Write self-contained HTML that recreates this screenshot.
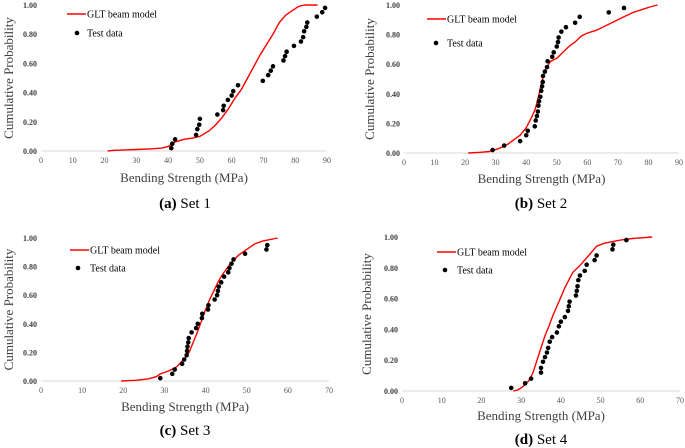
<!DOCTYPE html>
<html><head><meta charset="utf-8"><style>
html,body{margin:0;padding:0;background:#fff;width:685px;height:448px;overflow:hidden}
svg{display:block}
svg text{font-family:"Liberation Serif","DejaVu Serif",serif}
</style></head><body>
<svg id="fig" width="685" height="448"></svg>
<script>
const xTicks1=[0,10,20,30,40,50,60,70,80,90];
const xTicks2=[0,10,20,30,40,50,60,70];
const yTicks=[0,0.2,0.4,0.6,0.8,1.0];
const set1X=[41,41.3,42.2,48.8,49.2,49.8,50,55.5,57.3,57.5,58.8,60,60.5,62,69.8,71.5,72.3,73,76.3,76.8,77.3,79.6,81.8,82.5,82.8,83.5,83.8,86.8,88.5,89.4];
const set1Y=[0.02,0.05,0.08,0.11,0.15,0.18,0.22,0.25,0.28,0.31,0.35,0.38,0.41,0.45,0.48,0.52,0.55,0.58,0.62,0.65,0.68,0.72,0.75,0.78,0.82,0.85,0.88,0.92,0.95,0.98];
const model1X=[21,23,30,35,38,40,42,45,48,50,53,55,57,59,61,63,65,67,69,71,73,75,77,79,81,83,87];
const model1Y=[0,0.005,0.01,0.015,0.02,0.03,0.06,0.08,0.09,0.1,0.14,0.18,0.23,0.29,0.36,0.42,0.5,0.58,0.66,0.73,0.8,0.88,0.93,0.96,0.99,1,1];
const set2X=[29,32.8,38,40,40.5,42.8,43.1,43.5,43.8,44,44.2,44.6,44.9,45.2,45.4,45.5,46.1,46.8,47,48.5,49,50,50.4,50.6,51.5,53,56,57.5,67,72];
const set2Y=[0.02,0.05,0.08,0.12,0.15,0.18,0.22,0.25,0.28,0.32,0.35,0.38,0.42,0.45,0.48,0.52,0.55,0.58,0.62,0.65,0.68,0.72,0.75,0.78,0.82,0.85,0.88,0.92,0.95,0.98];
const model2X=[21,25,28,31,34,36,38,40,42,43,44,45,46,47,48,50,52,54,56,58,60,63,66,69,72,75,78,81,83];
const model2Y=[0,0.005,0.01,0.03,0.06,0.09,0.12,0.17,0.25,0.3,0.38,0.47,0.55,0.59,0.62,0.64,0.68,0.72,0.75,0.79,0.81,0.83,0.86,0.89,0.92,0.95,0.97,0.99,1];
const set3X=[29,31.9,32.5,34.3,34.8,35.4,35.5,35.6,35.8,35.9,36.6,37.7,38.1,39.1,39.2,40.6,40.7,42.2,42.8,43,43.2,43.8,44.5,45.5,45.8,46.3,46.8,49.6,54.8,55];
const set3Y=[0.02,0.05,0.08,0.12,0.15,0.18,0.21,0.24,0.27,0.3,0.34,0.37,0.4,0.44,0.47,0.5,0.53,0.57,0.6,0.63,0.66,0.69,0.73,0.76,0.79,0.82,0.85,0.89,0.92,0.95];
const model3X=[19.5,23,26,28,29,31,33,35,36,37,38,39,40,41,42,43,44,45,46,47,48,50,52,54,57.5];
const model3Y=[0,0.005,0.015,0.03,0.05,0.07,0.1,0.16,0.2,0.27,0.34,0.42,0.5,0.57,0.63,0.69,0.74,0.78,0.82,0.85,0.88,0.92,0.96,0.98,1];
const set4X=[27.5,31,32.5,35,35,35.5,36,36.5,36.8,37.2,37.8,39,39.5,40,41,41.8,42,42.2,43.8,44,44.2,44.4,44.8,46,46.5,48.5,49,53,53.2,56.5];
const set4Y=[0.02,0.05,0.08,0.12,0.15,0.19,0.22,0.25,0.28,0.32,0.35,0.38,0.42,0.45,0.48,0.52,0.55,0.58,0.62,0.65,0.68,0.72,0.75,0.78,0.82,0.85,0.88,0.92,0.95,0.98];
const model4X=[28,29,30,31,32,33,34,35,36,37,38,39,40,41,42,43,45,47,49,51,53,55,58,63];
const model4Y=[0,0.005,0.02,0.04,0.07,0.12,0.2,0.28,0.36,0.42,0.49,0.55,0.61,0.67,0.72,0.77,0.82,0.88,0.94,0.96,0.97,0.98,0.99,1];

const NS="http://www.w3.org/2000/svg";
const svg=document.getElementById('fig');
const FF='"Liberation Serif", "DejaVu Serif", serif';
function mk(tag,attrs,parent,text){const e=document.createElementNS(NS,tag);for(const k in attrs)e.setAttribute(k,attrs[k]);if(tag==='text')e.style.fontFamily=FF;if(text!==undefined)e.textContent=text;(parent||svg).appendChild(e);return e;}

const panels=[
 {id:'set-1',x0:41,x1:327,xmax:90,yb:151,yt:5,ticks:xTicks1,mx:model1X,my:model1Y,dx:set1X,dy:set1Y,ylx:10,leg:[67,14,77,33],title:178,cap:203,letter:'(a)',name:' Set 1',cx:185},
 {id:'set-2',x0:404,x1:679,xmax:90,yb:153,yt:5,ticks:xTicks1,mx:model2X,my:model2Y,dx:set2X,dy:set2Y,ylx:371,leg:[427,19,436,43],title:179,cap:203,letter:'(b)',name:' Set 2',cx:541},
 {id:'set-3',x0:41,x1:329,xmax:70,yb:381,yt:238,ticks:xTicks2,mx:model3X,my:model3Y,dx:set3X,dy:set3Y,ylx:10,leg:[70,250,78,268],title:407,cap:430,letter:'(c)',name:' Set 3',cx:185},
 {id:'set-4',x0:402,x1:680,xmax:70,yb:391,yt:237,ticks:xTicks2,mx:model4X,my:model4Y,dx:set4X,dy:set4Y,ylx:368,leg:[437,252,445,270],title:416,cap:439,letter:'(d)',name:' Set 4',cx:541}
];
panels.forEach(p=>{
 const g=mk('g',{});
 
 
 const sx=v=>p.x0+(p.x1-p.x0)*v/p.xmax;
 const sy=v=>p.yb-(p.yb-p.yt)*v;
 const ax=mk('line',{x1:p.x0,x2:p.x1,y1:p.yb,y2:p.yb,stroke:'#d9d9d9','stroke-width':1},g);
 
 
 p.ticks.forEach(t=>{
  const tl=mk('text',{x:sx(t),y:p.yb+12,'font-size':8,'text-anchor':'middle',fill:'#595959'},g,String(t));
  
  
 });
 yTicks.forEach(t=>{
  const tl=mk('text',{x:p.x0-4,y:sy(t)+3,'font-size':8,'font-weight':'bold','text-anchor':'end',fill:'#404040'},g,t.toFixed(2));
  
  
 });
 const yl=mk('text',{x:p.ylx,y:(p.yb+p.yt)/2,'font-size':13,'text-anchor':'middle',fill:'#404040',transform:`rotate(-90 ${p.ylx} ${(p.yb+p.yt)/2})`,'dominant-baseline':'middle'},g,'Cumulative Probability');
 
 
 const xl=mk('text',{x:(p.x0+p.x1)/2,y:p.title+4,'font-size':13,'text-anchor':'middle',fill:'#404040'},g,'Bending Strength (MPa)');
 
 
 let d='';p.mx.forEach((v,i)=>{d+=(i?'L':'M')+sx(v).toFixed(1)+','+sy(p.my[i]).toFixed(1);});
 const ln=mk('path',{d:d,fill:'none',stroke:'#ff0000','stroke-width':1.4},g);
 
 
 p.dx.forEach((v,i)=>{
  const c=mk('circle',{cx:sx(v),cy:sy(p.dy[i]),r:2.3,fill:'#000'},g);
  
  
 });
 const [lx,ly,dx,dy]=p.leg;
 const lg=mk('g',{},g);
 
 
 mk('line',{x1:lx,x2:lx+19,y1:ly,y2:ly,stroke:'#ff0000','stroke-width':1.4},lg);
 mk('text',{x:lx+20,y:ly+3.5,'font-size':10,fill:'#000'},lg,'GLT beam model');
 mk('circle',{cx:dx,cy:dy,r:2.3,fill:'#000'},lg);
 mk('text',{x:lx+20,y:dy+3.5,'font-size':10,fill:'#000'},lg,'Test data');
 const cap=mk('text',{x:p.cx,y:p.cap+5,'font-size':15,'text-anchor':'middle',fill:'#000'},g);
 
 
 mk('tspan',{'font-weight':'bold'},cap,p.letter);
 mk('tspan',{},cap,p.name);
});
</script>
</body></html>
